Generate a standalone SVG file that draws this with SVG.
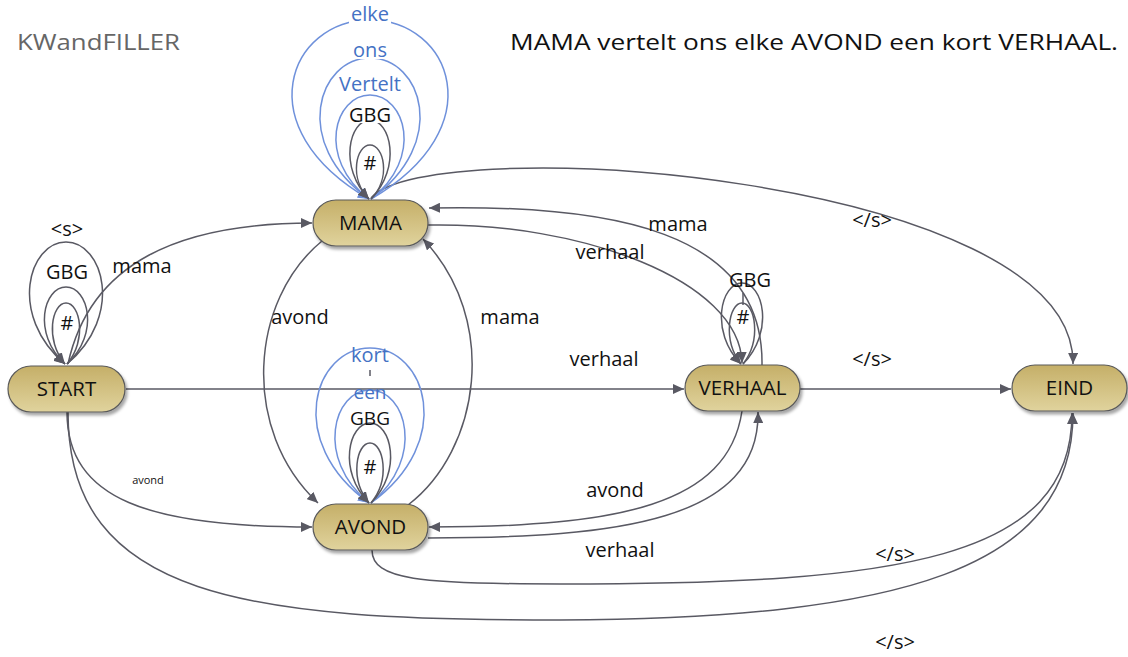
<svg xmlns="http://www.w3.org/2000/svg" width="1128" height="657" viewBox="0 0 1128 657">
<defs>
<linearGradient id="gold" x1="0" y1="0" x2="0" y2="1">
<stop offset="0" stop-color="#c5af68"/>
<stop offset="1" stop-color="#e0d39d"/>
</linearGradient>
<filter id="sh" x="-20%" y="-30%" width="140%" height="170%">
<feDropShadow dx="2" dy="3" stdDeviation="1.5" flood-color="#000" flood-opacity="0.35"/>
</filter>
<marker id="ag" markerUnits="userSpaceOnUse" markerWidth="12" markerHeight="10" refX="11" refY="5" orient="auto">
<path d="M0,0 L11,5 L0,10 z" fill="#595963"/>
</marker>
<marker id="ab" markerUnits="userSpaceOnUse" markerWidth="12" markerHeight="10" refX="11" refY="5" orient="auto">
<path d="M0,0 L11,5 L0,10 z" fill="#6f91db"/>
</marker>
<style>
.e{fill:none;stroke:#595963;stroke-width:1.5;marker-end:url(#ag)}
.n{fill:none;stroke:#595963;stroke-width:1.5}
.b{fill:none;stroke:#6f91db;stroke-width:1.5;marker-end:url(#ab)}
.node rect{fill:url(#gold);stroke:#5a5a5a;stroke-width:1.2;filter:url(#sh)}
.node text{font-family:"Open Sans","Liberation Sans",sans-serif;font-size:20.5px;fill:#111;text-anchor:middle}
.l{font-family:"Open Sans","Liberation Sans",sans-serif;font-size:20px;fill:#111;text-anchor:middle}
.lb{font-family:"Open Sans","Liberation Sans",sans-serif;font-size:20px;fill:#4472c4;text-anchor:middle}
.bg{fill:#fff}
</style>
</defs>
<rect width="1128" height="657" fill="#fff"/>
<text x="17" y="50" font-family="'Open Sans','Liberation Sans',sans-serif" font-size="21" fill="#666" textLength="163" lengthAdjust="spacingAndGlyphs">KWandFILLER</text>
<text x="510" y="50" font-family="'Open Sans','Liberation Sans',sans-serif" font-size="21" fill="#111" textLength="608" lengthAdjust="spacingAndGlyphs">MAMA vertelt ons elke AVOND een kort VERHAAL.</text>
<g id="connectors">
<path id="start-mama" class="e" d="M 68 364 C 90 262, 180 223, 312 223"/>
<path id="start-verhaal" class="e" d="M 126 389 L 684 389"/>
<path id="start-avond" class="e" d="M 67 412 C 67 500, 150 527, 312 527"/>
<path id="start-eind" class="e" d="M 68 412 C 68 600, 250 620, 560 620 C 900 618, 1073 570, 1073 413"/>
<path id="mama-avond" class="e" d="M 322 241 C 250 300, 240 430, 318 503"/>
<path id="avond-mama" class="e" d="M 408 505 C 480 450, 500 320, 423 239"/>
<path id="mama-verhaal" class="e" d="M 428 225 C 580 222, 740 280, 742 363"/>
<path id="verhaal-mama" class="e" d="M 762 365 C 764 230, 610 204, 429 208"/>
<path id="mama-eind" class="e" d="M 371 198 C 430 130, 1075 175, 1073 364"/>
<path id="verhaal-eind" class="e" d="M 800 389 L 1011 389"/>
<path id="verhaal-avond" class="e" d="M 742 411 C 728 505, 620 527, 429 527"/>
<path id="avond-verhaal" class="e" d="M 428 538 C 620 538, 760 520, 758 412"/>
<path id="avond-eind" class="e" d="M 372 550 C 372 580, 420 584, 560 584 C 900 584, 1072 560, 1072 413"/>
<!-- MAMA self loops -->
<path class="b" d="M 371 199 C 494.8 127.4, 450.3 20, 370 20 C 289.7 20, 245.2 127.4, 369 199"/>
<path class="b" d="M 371 199 C 450 142.6, 421.5 58, 370 58 C 318.5 58, 290 142.6, 369 199"/>
<path class="b" d="M 371 199 C 424.4 157.4, 405 95, 370 95 C 335 95, 315.6 157.4, 369 199"/>
<path class="e" d="M 371 199 C 402 167.4, 390.6 120, 370 120 C 349.4 120, 338 167.4, 369 199"/>
<path class="e" d="M 371 199 C 391.8 177.4, 383.4 145, 370 145 C 356.6 145, 348.2 177.4, 369 199"/>
<!-- START self loops -->
<path class="e" d="M 67 364 C 124.6 315.2, 103.1 242, 66 242 C 28.9 242, 7.4 315.2, 65 364"/>
<path class="e" d="M 67 364 C 100.4 333.2, 88.1 287, 66 287 C 43.9 287, 31.6 333.2, 65 364"/>
<path class="e" d="M 67 364 C 87.6 339.6, 79.9 303, 66 303 C 52.1 303, 44.4 339.6, 65 364"/>
<!-- AVOND self loops -->
<path class="b" d="M 371 503 C 456.4 441, 425.6 348, 370 348 C 314.4 348, 283.6 441, 369 503"/>
<path class="b" d="M 371 503 C 426 457.8, 406 390, 370 390 C 334 390, 314 457.8, 369 503"/>
<path class="e" d="M 371 503 C 402.8 471, 391.1 423, 370 423 C 348.9 423, 337.2 471, 369 503"/>
<path class="e" d="M 371 503 C 390.8 479, 383.4 443, 370 443 C 356.6 443, 349.2 479, 369 503"/>
<line class="n" x1="370" y1="370" x2="370" y2="376" stroke-width="1"/>
<!-- VERHAAL self loops -->
<path class="e" d="M 743 364 C 774.8 331.6, 763.1 283, 742 283 C 720.9 283, 709.2 331.6, 741 364"/>
<path class="e" d="M 743 364 C 762 339.6, 754.9 303, 742 303 C 729.1 303, 722 339.6, 741 364"/>
<line class="n" x1="743" y1="293" x2="743" y2="305" stroke-width="1"/>
</g>
<g id="node-mama" class="node"><rect x="313" y="200" width="115" height="46" rx="23"/><text x="370.5" y="230">MAMA</text></g>
<g id="node-start" class="node"><rect x="8" y="366" width="117" height="46" rx="23"/><text x="66.5" y="396">START</text></g>
<g id="node-avond" class="node"><rect x="313" y="504" width="115" height="46" rx="23"/><text x="370.5" y="534">AVOND</text></g>
<g id="node-verhaal" class="node"><rect x="685" y="365" width="115" height="46" rx="23"/><text x="742.5" y="395">VERHAAL</text></g>
<g id="node-eind" class="node"><rect x="1012" y="365" width="115" height="46" rx="23"/><text x="1069.5" y="395">EIND</text></g>
<g id="labels">
<rect class="bg" x="349" y="4" width="42" height="20"/>
<text class="lb" x="370" y="21">elke</text>
<rect class="bg" x="352" y="40" width="36" height="19"/>
<text class="lb" x="370" y="57">ons</text>
<rect class="bg" x="337" y="74" width="66" height="20"/>
<text class="lb" x="370" y="91">Vertelt</text>
<rect class="bg" x="350" y="105" width="40" height="18"/>
<text class="l" x="370" y="122">GBG</text>
<text class="l" x="370" y="170">#</text>
<text class="l" x="67" y="236">&lt;s&gt;</text>
<text class="l" x="67" y="279">GBG</text>
<text class="l" x="67" y="330">#</text>
<text class="l" x="142" y="273">mama</text>
<text class="l" x="300" y="324">avond</text>
<text class="l" x="510" y="324">mama</text>
<text class="lb" x="370" y="362">kort</text>
<text class="lb" x="370" y="399" style="font-size:19px">een</text>
<text class="l" x="370" y="425" style="font-size:19px">GBG</text>
<text class="l" x="370" y="474">#</text>
<text class="l" x="750" y="287">GBG</text>
<text class="l" x="743" y="324">#</text>
<text class="l" x="604" y="366">verhaal</text>
<text class="l" x="872" y="366">&lt;/s&gt;</text>
<text class="l" x="678" y="231">mama</text>
<text class="l" x="610" y="259">verhaal</text>
<text class="l" x="872" y="227">&lt;/s&gt;</text>
<text class="l" x="148" y="484" style="font-size:11px">avond</text>
<text class="l" x="615" y="497">avond</text>
<text class="l" x="620" y="557">verhaal</text>
<text class="l" x="895" y="561">&lt;/s&gt;</text>
<text class="l" x="895" y="649">&lt;/s&gt;</text>
</g>
</svg>
